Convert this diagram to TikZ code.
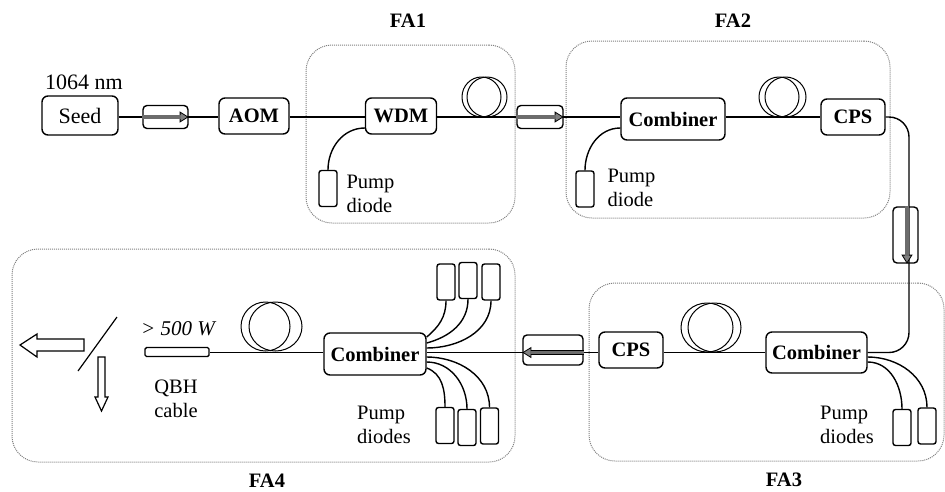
\documentclass[tikz,border=0pt]{standalone}
\usepackage{fontspec}
\setmainfont{Liberation Serif}
\usetikzlibrary{arrows.meta, shapes.geometric}

\begin{document}
\begin{tikzpicture}[x=1pt,y=-1pt]
	\tikzset{
	fibre/.style={line width=1.4pt}, % the fibre lines
	part/.style={draw, line width=1.4pt, rounded corners=6pt, inner sep=0pt}, % every boxed component
	boldpart/.style={part, font=\fontsize{20.5}{24}\selectfont\bfseries},
	isolator/.style={part, rounded corners=4pt},
	isoarrow/.style={line width=4.6pt, -{Triangle[width=11pt,length=9pt,fill=gray,line width=.8pt]},
		postaction={draw=gray!85!black, line width=3.4pt, shorten >=8pt, -}},
	diode/.style={part, rounded corners=2.5pt, minimum width=18pt, minimum height=36pt},
	coil/.style={ellipse, draw, line width=1pt, inner sep=0pt},
	groupbox/.style={draw=gray, densely dotted, line width=1pt, rounded corners=26pt, inner sep=0pt},
	grouplabel/.style={font=\fontsize{20.5}{24}\selectfont\bfseries, inner sep=0pt},
	plaintext/.style={font=\fontsize{20.5}{24}\selectfont, align=left, inner sep=0pt},
	outarrow/.style={draw, line width=1.2pt, line join=miter} % the hollow output arrows
	}
	\useasboundingbox (0,0) rectangle (945,491);

	% Amplifier stages
	\node[groupbox, minimum width=209pt, minimum height=178pt] (fa1) at (410.5,134) {};
	\node[groupbox, minimum width=324pt, minimum height=177pt] (fa2) at (728,129.5) {};
	\node[groupbox, minimum width=355pt, minimum height=178pt] (fa3) at (766.5,372) {};
	\node[groupbox, minimum width=503pt, minimum height=213pt] (fa4) at (263.5,355.5) {};
	\node[grouplabel, node distance=113pt, above of=fa1, xshift=-2.5pt] (fa1label) {FA1};
	\node[grouplabel, node distance=108.5pt, above of=fa2, xshift=5pt] (fa2label) {FA2};
	\node[grouplabel, node distance=108pt, below of=fa3, xshift=17.5pt] (fa3label) {FA3};
	\node[grouplabel, node distance=125.5pt, below of=fa4, xshift=3.5pt] (fa4label) {FA4};

	% Upper row
	\node[part, minimum width=76pt, minimum height=39pt, font=\fontsize{22}{24}\selectfont] (seed) at (80,115.5) {Seed};
	\node[plaintext, font=\fontsize{22}{24}\selectfont, node distance=33.5pt, above of=seed, xshift=4pt] (seedlabel) {1064 nm};
	\node[isolator, minimum width=45pt, minimum height=23pt, node distance=85.5pt, right of=seed, yshift=-1.5pt] (iso1) {};
	\node[boldpart, minimum width=70pt, minimum height=36pt, node distance=88.5pt, right of=iso1, yshift=1pt] (aom) {AOM};
	\node[boldpart, minimum width=71pt, minimum height=36pt, node distance=147pt, right of=aom] (wdm) {WDM};
	\node[isolator, minimum width=46pt, minimum height=23pt, node distance=139pt, right of=wdm, yshift=-1pt] (iso2) {};
	\node[boldpart, minimum width=104pt, minimum height=42pt, node distance=133pt, right of=iso2, yshift=-2pt] (comb2) {Combiner};
	\node[boldpart, minimum width=64pt, minimum height=36pt, node distance=180pt, right of=comb2, yshift=2pt] (cps2) {CPS};

	% Lower row
	\node[isolator, minimum width=25pt, minimum height=56pt, node distance=118pt, below of=cps2, xshift=52.5pt] (iso3) {};
	\node[boldpart, minimum width=101pt, minimum height=41pt, node distance=117.5pt, below of=iso3, xshift=-89pt] (comb3) {Combiner};
	\node[boldpart, minimum width=64pt, minimum height=36pt, node distance=185.5pt, left of=comb3, yshift=2.5pt] (cps3) {CPS};
	\node[isolator, minimum width=60pt, minimum height=30pt, node distance=78pt, left of=cps3] (iso4) {};
	\node[boldpart, minimum width=102pt, minimum height=42pt, node distance=178pt, left of=iso4, yshift=-4pt] (comb4) {Combiner};
	\node[part, rounded corners=1.5pt, minimum width=64pt, minimum height=9pt, node distance=198pt, left of=comb4, yshift=2pt] (qbh) {};
	\node[plaintext, font=\fontsize{21}{24}\selectfont\itshape, node distance=23pt, above of=qbh, xshift=1pt] (power) {> 500 W};
	\node[plaintext, node distance=46.5pt, below of=qbh, xshift=-1pt] (qbhlabel) {QBH\\cable};

	% Fibre coils
	\node[coil, minimum width=39pt, minimum height=40pt, node distance=80.5pt, right of=wdm, yshift=19pt] (coil1a) {};
	\node[coil, minimum width=40pt, minimum height=40pt, node distance=5.5pt, right of=coil1a] (coil1b) {};
	\node[coil, minimum width=40pt, minimum height=40pt, node distance=106pt, right of=comb2, yshift=22pt] (coil2a) {};
	\node[coil, minimum width=41pt, minimum height=40pt, node distance=6.5pt, right of=coil2a] (coil2b) {};
	\node[coil, minimum width=52pt, minimum height=49pt, node distance=76pt, right of=cps3, yshift=22.5pt] (coil3a) {};
	\node[coil, minimum width=53pt, minimum height=49pt, node distance=7.5pt, right of=coil3a] (coil3b) {};
	\node[coil, minimum width=49pt, minimum height=49pt, node distance=88.5pt, right of=qbh, yshift=25.5pt] (coil4a) {};
	\node[coil, minimum width=53pt, minimum height=49pt, node distance=10pt, right of=coil4a] (coil4b) {};

	% Pump diodes
	\node[diode, node distance=72.5pt, below of=wdm, xshift=-73pt] (pumpA) {};
	\node[diode, node distance=70pt, below of=comb2, xshift=-88pt] (pumpB) {};
	\node[diode, node distance=75pt, below of=comb3, xshift=85.5pt] (pumpCa) {};
	\node[diode, node distance=25pt, right of=pumpCa, yshift=1.5pt] (pumpCb) {};
	\node[diode, node distance=72pt, above of=comb4, xshift=71pt] (pumpDa) {};
	\node[diode, node distance=22pt, right of=pumpDa, yshift=1.5pt] (pumpDb) {};
	\node[diode, node distance=23pt, right of=pumpDb, yshift=-1.5pt] (pumpDc) {};
	\node[diode, node distance=71.5pt, below of=comb4, xshift=70pt] (pumpEa) {};
	\node[diode, node distance=22pt, right of=pumpEa, yshift=-2pt] (pumpEb) {};
	\node[diode, node distance=22.5pt, right of=pumpEb, yshift=1.5pt] (pumpEc) {};
	\node[plaintext, node distance=42.5pt, right of=pumpA, yshift=-5.5pt] (pumpAlabel) {Pump\\diode};
	\node[plaintext, node distance=46.5pt, right of=pumpB, yshift=1pt] (pumpBlabel) {Pump\\diode};
	\node[plaintext, node distance=55pt, left of=pumpCa, yshift=3pt] (pumpClabel) {Pump\\diodes};
	\node[plaintext, node distance=61pt, left of=pumpEa, yshift=1pt] (pumpElabel) {Pump\\diodes};

	% Mirror and output beams
	\coordinate (mirrorA) at (78,371);
	\coordinate (mirrorB) at (117,317);
	\draw[line width=1.2pt] (mirrorA) -- (mirrorB);
	\draw[outarrow] (84,339) -- (37,339) -- (37,334) -- (20,345) -- (37,357) -- (37,351) -- (84,351) -- cycle;
	\draw[outarrow] (98,357) -- (98,397) -- (95,397) -- (101.5,411) -- (108,397) -- (105,397) -- (105,357) -- cycle;

	% Fibre path
	\draw[fibre]
	(seed.east |- iso1) -- (aom.west |- iso1)
	(aom.east |- iso1) -- (wdm.west |- iso1)
	(wdm.east |- iso1) -- (comb2.west |- iso1)
	(comb2.east |- iso1) -- (cps2.west |- iso1)
	(comb3.west) -- (cps3.east |- comb3)
	(cps3.west |- comb3) -- (comb4.east |- comb3)
	(comb4.west |- comb3) -- (qbh.east |- comb3)
	;
	\draw[fibre, rounded corners=20pt] (cps2.east |- iso1) -| ([xshift=3.5pt]iso3.center) |- (comb3.east);

	% Pump fibres
	\draw[fibre]
	(pumpA.north) to[out=90,in=180] ([yshift=-12pt]wdm.west)
	(pumpB.north) to[out=90,in=180] ([yshift=-9pt]comb2.west)
	([yshift=-9.5pt]comb3.east) to[out=0,in=90] (pumpCa.north)
	([yshift=-4.5pt]comb3.east) to[out=0,in=90] (pumpCb.north)
	([yshift=17pt]comb4.east) to[out=40,in=-90] (pumpDa.south)
	([yshift=11pt]comb4.east) to[out=15,in=-90] (pumpDb.south)
	([yshift=6pt]comb4.east) to[out=0,in=-90] (pumpDc.south)
	([yshift=-14pt]comb4.east) to[out=-20,in=90] (pumpEa.north)
	([yshift=-8pt]comb4.east) to[out=0,in=90] (pumpEb.north)
	([yshift=-3pt]comb4.east) to[out=0,in=90] (pumpEc.north)
	;

	% Isolator arrows
	\draw[isoarrow] (iso1.west) -- (iso1.east);
	\draw[isoarrow] (iso2.west) -- (iso2.east);
	\draw[isoarrow] ([xshift=1.5pt]iso3.north) -- ([xshift=1.5pt]iso3.south);
	\draw[isoarrow] (iso4.east |- comb3) -- (iso4.west |- comb3);
\end{tikzpicture}
\end{document}
